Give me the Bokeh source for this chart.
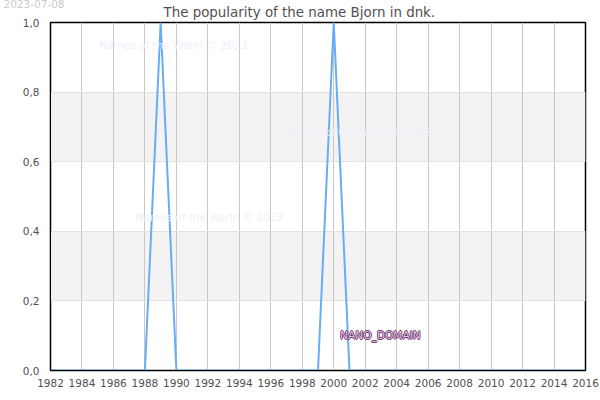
from bokeh.plotting import figure
from bokeh.models import Range1d, FixedTicker, Label, Title, CustomJSTickFormatter
from bokeh.embed import file_html
from bokeh.resources import INLINE

years = list(range(1982, 2017))
values = [0, 0, 0, 0, 0, 0, 0, 1, 0, 0, 0, 0, 0, 0, 0, 0, 0, 0, 1, 0,
          0, 0, 0, 0, 0, 0, 0, 0, 0, 0, 0, 0, 0, 0, 0]
x_ticks = list(range(1982, 2017, 2))
y_ticks = [0.0, 0.2, 0.4, 0.6, 0.8, 1.0]
band_lo = [0.2, 0.6]
band_hi = [0.4, 0.8]
title_text = "The popularity of the name Bjorn in dnk."
date_text = "2023-07-08"
mark_text = "Names of the World © 2023"
mark_x = [1985.1, 1996.9, 1987.4]
mark_y = [0.934, 0.684, 0.44]
domain_text = "NANO_DOMAIN"

FONT = "DejaVu Sans"
p = figure(width=608, height=408, output_backend="svg", toolbar_location=None,
           x_range=Range1d(1982, 2016), y_range=Range1d(0, 1),
           min_border_left=58, min_border_right=15, min_border_top=30, min_border_bottom=30,
           margin=(-8, 0, 0, -8))
p.background_fill_color = "white"
p.border_fill_color = "white"
p.outline_line_color = "black"
p.outline_line_width = 1.5

p.quad(left=1982, right=2016, bottom=band_lo, top=band_hi, fill_color="#f3f3f3", line_color=None, level="underlay")

p.xgrid.ticker = FixedTicker(ticks=x_ticks)
p.xgrid.grid_line_color = "#c8c8c8"
p.xgrid.grid_line_width = 1
p.ygrid.ticker = FixedTicker(ticks=y_ticks)
p.ygrid.grid_line_color = "#e2e2e2"
p.ygrid.grid_line_width = 1

p.line(years, values, line_color="#66adf6", line_width=2)

for ax, ticks in ((p.xaxis[0], x_ticks), (p.yaxis[0], y_ticks)):
    ax.ticker = FixedTicker(ticks=ticks)
    ax.major_label_text_font = FONT
    ax.major_label_text_font_size = "10.5px"
    ax.major_label_text_color = "#505050"
    ax.axis_line_color = "black"
    ax.major_tick_line_color = None
    ax.minor_tick_line_color = None
p.xaxis[0].major_label_standoff = 2
p.yaxis[0].major_label_standoff = 5
p.yaxis[0].formatter = CustomJSTickFormatter(code="return tick.toFixed(1).replace('.', ',')")
p.xaxis[0].formatter = CustomJSTickFormatter(code="return String(tick)")

p.add_layout(Title(text=title_text, text_font=FONT, text_font_size="13.4px", text_font_style="normal",
                   text_color="#505050", align="left", offset=113, standoff=6), "above")
p.add_layout(Title(text=date_text, text_font=FONT, text_font_size="10.5px", text_font_style="normal",
                   text_color="#cccccc", align="left", offset=-47, standoff=-17), "above")

for mx, my in zip(mark_x, mark_y):
    p.add_layout(Label(x=mx, y=my, text=mark_text, text_font=FONT, text_font_size="10.5px",
                       text_color="#efeffb", text_baseline="middle"))

for dx, dy in ((-0.8, 0), (0.8, 0), (0, -0.8), (0, 0.8)):
    p.add_layout(Label(x=2000.4, y=0.102, x_offset=dx, y_offset=dy, text=domain_text, text_font=FONT,
                       text_font_size="10.6px", text_color="#5e2a60", text_baseline="middle"))
p.add_layout(Label(x=2000.4, y=0.102, text=domain_text, text_font=FONT,
                   text_font_size="10.6px", text_color="#e6c8e6", text_baseline="middle"))

open("out.html", "w").write(file_html(p, INLINE))
